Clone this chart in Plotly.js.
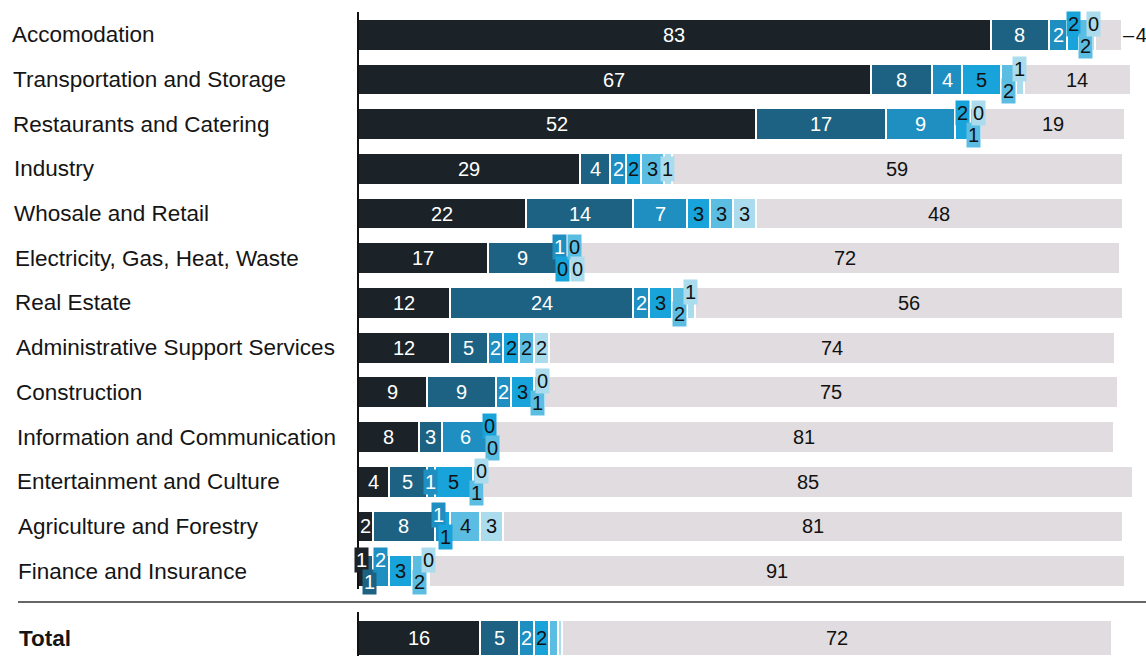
<!DOCTYPE html>
<html><head><meta charset="utf-8">
<script src="https://cdn.plot.ly/plotly-3.0.1.min.js"></script>
<style>html,body{margin:0;padding:0;background:#fff}#chart{width:1146px;height:656px}</style>
</head><body><div id="chart"></div>
<script>
const categories = ["Accomodation", "Transportation and Storage", "Restaurants and Catering", "Industry",
  "Whosale and Retail", "Electricity, Gas, Heat, Waste", "Real Estate", "Administrative Support Services",
  "Construction", "Information and Communication", "Entertainment and Culture", "Agriculture and Forestry",
  "Finance and Insurance", "Total"];

// segment shares (%), darkest to lightest, then the grey remainder
const s1   = [82.7, 67, 52, 29, 22, 17, 12, 12, 9, 8, 4, 2, 1, 16];
const s2   = [7.6, 8, 17, 4, 14, 9, 24, 5, 9, 3, 5, 8, 1, 5];
const s3   = [2.4, 4, 9, 2, 7, 0.6, 2, 2, 2, 6, 1, 1, 2, 2];
const s4   = [1.6, 5, 2, 2, 3, 0.3, 3, 2, 3, 0.4, 5, 1, 3, 2];
const s5   = [1.6, 2, 1, 3, 3, 0.4, 2, 2, 1, 0.4, 1, 4, 2, 1.2];
const s6   = [0.4, 1, 0.3, 1, 3, 0.3, 1, 2, 0.3, null, 0.3, 3, 0.3, 0.4];
const rest = [3.6, 14, 19, 59, 48, 72, 56, 74, 75, 81, 85, 81, 91, 72];

const series = [s1, s2, s3, s4, s5, s6, rest];
const colors = ['#1b2329', '#1d6282', '#1f8fc2', '#18a3da', '#5cbde3', '#aadcee', '#e0dcdf'];
const textColors = ['#ffffff', '#ffffff', '#ffffff', '#111111', '#111111', '#111111', '#111111'];

const W = 1146, H = 656, L = 358, T = 8, B = 0, R = 0;
const XMAX = 103;
const plotW = W - L - R, plotH = H - T - B;
const k = plotW / XMAX;
const FONT = 'Liberation Sans, Arial, Helvetica, sans-serif';

const n = categories.length;
const yPos = categories.map((c, i) => i < n - 1 ? i : i + 0.5);
const barW = categories.map((c, i) => i < n - 1 ? 0.71 : 0.8);

const traces = series.map((vals, si) => ({
  type: 'bar', orientation: 'h',
  x: vals.map(v => v == null ? 0 : v), y: yPos, width: barW,
  marker: {color: colors[si], line: {color: '#ffffff', width: 2}},
  hoverinfo: 'skip', showlegend: false
}));

const annotations = [];
// category labels
categories.forEach((c, i) => {
  const isTotal = i === n - 1;
  annotations.push({
    xref: 'paper', yref: 'y', x: 0, y: yPos[i], xanchor: 'left', yanchor: 'middle',
    xshift: -(L - 10 - i * 0.5), showarrow: false,
    text: isTotal ? '<b>' + c + '</b>' : c,
    font: {family: FONT, size: 22.5, color: '#151515'}
  });
});

// value labels with simple collision handling
const charW = 11, gap = 3, boxPad = 2;
for (let r = 0; r < n; r++) {
  const isTotal = r === n - 1;
  let cum = 0;
  const items = [];
  series.forEach((vals, si) => {
    const v = vals[r];
    if (v == null) return;
    const it = {si, v, start: cum, c: cum + v / 2, text: String(Math.round(v))};
    it.w = it.text.length * charW;
    cum += v;
    if (isTotal && si < 6 && v < 1.5) return;
    items.push(it);
  });
  const end = cum;
  for (let j = 0; j < items.length - 1; j++) {
    const a = items[j], b = items[j + 1];
    if (b.si === 6) continue;
    if ((b.c - a.c) * k < (a.w + b.w) / 2 + gap) { a.disp = true; b.disp = true; }
  }
  let dir = null, prevDisp = false;
  const laneRight = {up: -1e9, down: -1e9};
  items.forEach(it => {
    if (it.si === 6) {
      if (it.v < 5) {
        annotations.push({xref: 'x', yref: 'y', x: end, y: yPos[r], xanchor: 'left', yanchor: 'middle',
          xshift: -1, showarrow: false, text: '\u2013\u200a' + it.text,
          font: {family: FONT, size: 20, color: '#111'}});
      } else {
        annotations.push({xref: 'x', yref: 'y', x: it.c, y: yPos[r], xanchor: 'center', yanchor: 'middle',
          showarrow: false, text: it.text, font: {family: FONT, size: 20, color: '#111'}});
      }
      prevDisp = false;
      return;
    }
    const small = it.v * k < it.w + 4;
    if (it.disp) {
      if (!prevDisp) dir = ([0, 2, 3].includes(it.si)) ? 'up' : 'down';
      else dir = dir === 'up' ? 'down' : 'up';
      prevDisp = true;
      const half = it.w / 2 + boxPad;
      let cx = it.c * k;
      let shift = 0;
      if (cx - half < laneRight[dir]) { shift = laneRight[dir] - (cx - half); cx += shift; }
      laneRight[dir] = cx + half;
      annotations.push({xref: 'x', yref: 'y', x: it.c, y: yPos[r], xanchor: 'center', yanchor: 'middle',
        xshift: shift, yshift: dir === 'up' ? 11 : -11, showarrow: false, text: it.text,
        bgcolor: colors[it.si], borderpad: 1,
        font: {family: FONT, size: 20, color: textColors[it.si]}});
    } else {
      prevDisp = false;
      const a = {xref: 'x', yref: 'y', x: it.c, y: yPos[r], xanchor: 'center', yanchor: 'middle',
        showarrow: false, text: it.text, font: {family: FONT, size: 20, color: textColors[it.si]}};
      if (small) { a.bgcolor = colors[it.si]; a.borderpad = 1; }
      annotations.push(a);
    }
  });
}

const px2x = px => (px - L) / plotW;
const py2y = py => 1 - (py - T) / plotH;

const shapes = [
  {type: 'line', xref: 'paper', yref: 'paper', x0: 0, x1: 0, y0: py2y(12), y1: py2y(589),
   line: {color: '#111', width: 2}},
  {type: 'line', xref: 'paper', yref: 'paper', x0: px2x(18), x1: 1, y0: py2y(602), y1: py2y(602),
   line: {color: '#333', width: 1.5}},
  {type: 'line', xref: 'paper', yref: 'paper', x0: 0, x1: 0, y0: py2y(612), y1: 0,
   line: {color: '#111', width: 2}}
];

const layout = {
  width: W, height: H,
  margin: {l: L, r: R, t: T, b: B, pad: 0},
  barmode: 'stack', bargap: 0,
  paper_bgcolor: '#ffffff', plot_bgcolor: '#ffffff',
  xaxis: {range: [0, XMAX], visible: false, fixedrange: true},
  yaxis: {range: [13.9, -0.6], visible: false, fixedrange: true},
  annotations, shapes,
  font: {family: FONT}
};

Plotly.newPlot('chart', traces, layout, {staticPlot: true, displayModeBar: false});
</script>
</body></html>
